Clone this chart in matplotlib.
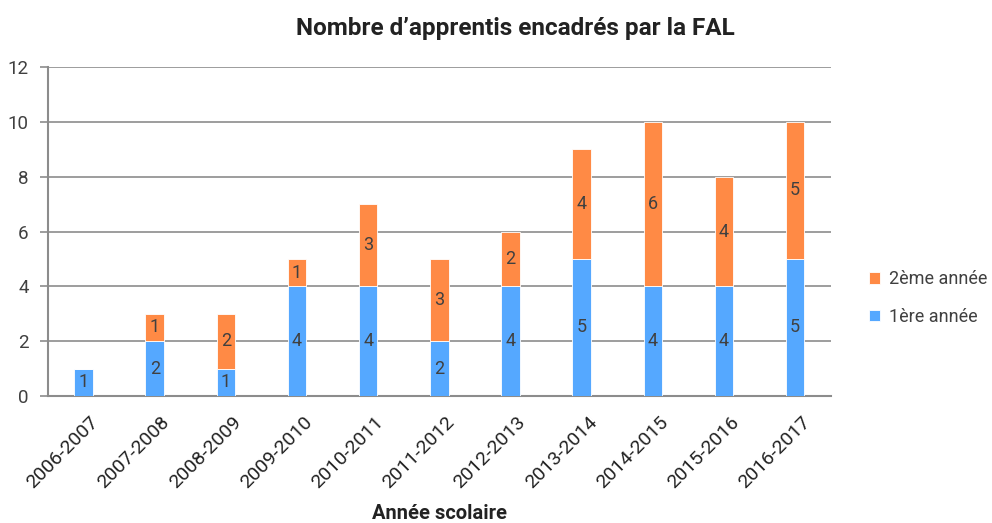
import matplotlib.pyplot as plt
import matplotlib.transforms as mtransforms
import numpy as np

plt.rcParams['font.family'] = ['Roboto', 'DejaVu Sans']

years = ['2006-2007', '2007-2008', '2008-2009', '2009-2010', '2010-2011',
         '2011-2012', '2012-2013', '2013-2014', '2014-2015', '2015-2016',
         '2016-2017']
first_year = [1, 2, 1, 4, 4, 2, 4, 5, 4, 4, 5]
second_year = [0, 1, 2, 1, 3, 3, 2, 4, 6, 4, 5]

blue = '#55A8FF'
orange = '#FF8A45'
grid_col = '#8C8C8C'
text_col = '#404040'

fig = plt.figure(figsize=(9.92, 5.23), dpi=100)
ax = fig.add_axes([0.0484, 0.2428, 0.789, 0.6291])

x = np.arange(len(years))
ax.bar(x, first_year, width=0.26, color=blue, edgecolor='white',
       linewidth=0.6, label='1ère année', zorder=3)
ax.bar(x, second_year, width=0.26, bottom=first_year, color=orange,
       edgecolor='white', linewidth=0.6, label='2ème année', zorder=3)

for i in range(len(years)):
    if first_year[i] > 0:
        ax.text(x[i], first_year[i] / 2, str(first_year[i]), ha='center',
                va='center', fontsize=13, color=text_col, zorder=4)
    if second_year[i] > 0:
        ax.text(x[i], first_year[i] + second_year[i] / 2, str(second_year[i]),
                ha='center', va='center', fontsize=13, color=text_col, zorder=4)

ax.set_xlim(-0.5, len(years) - 0.5)
ax.set_ylim(0, 12)
ax.set_yticks(np.arange(0, 13, 2))
ax.yaxis.grid(True, color=grid_col, linewidth=1.2, zorder=0)
ax.set_axisbelow(True)
for s in ['top', 'right']:
    ax.spines[s].set_visible(False)
for s in ['left', 'bottom']:
    ax.spines[s].set_color(grid_col)
    ax.spines[s].set_linewidth(1.5)
ax.tick_params(axis='y', length=6, color=grid_col, width=1.2,
               labelsize=13.5, labelcolor=text_col, pad=8)
ax.tick_params(axis='x', length=0, labelsize=14, labelcolor='#222222', pad=12)
ax.set_xticks(x)
ax.set_xticklabels(years, rotation=45, ha='right', rotation_mode='anchor')
# nudge the rotated labels a little to the right, like the original
shift = mtransforms.ScaledTranslation(0.06, 0, fig.dpi_scale_trans)
for lab in ax.get_xticklabels():
    lab.set_transform(lab.get_transform() + shift)

fig.text(0.4435, 1 - 519 / 523, 'Année scolaire', ha='center',
         va='baseline', fontsize=14.5, fontweight='bold', color='#222222')
fig.text(0.52, 0.945, 'Nombre d\u2019apprentis encadrés par la FAL',
         ha='center', va='center', fontsize=17.5, fontweight='bold',
         color='#222222')

handles, labels = ax.get_legend_handles_labels()
fig.legend(handles[::-1], labels[::-1], loc='center left',
           bbox_to_anchor=(0.86, 0.43), frameon=False, fontsize=13,
           handlelength=0.6, handleheight=0.6, handletextpad=0.5,
           labelspacing=1.1, labelcolor=text_col)

fig.savefig('out.png', dpi=100)
